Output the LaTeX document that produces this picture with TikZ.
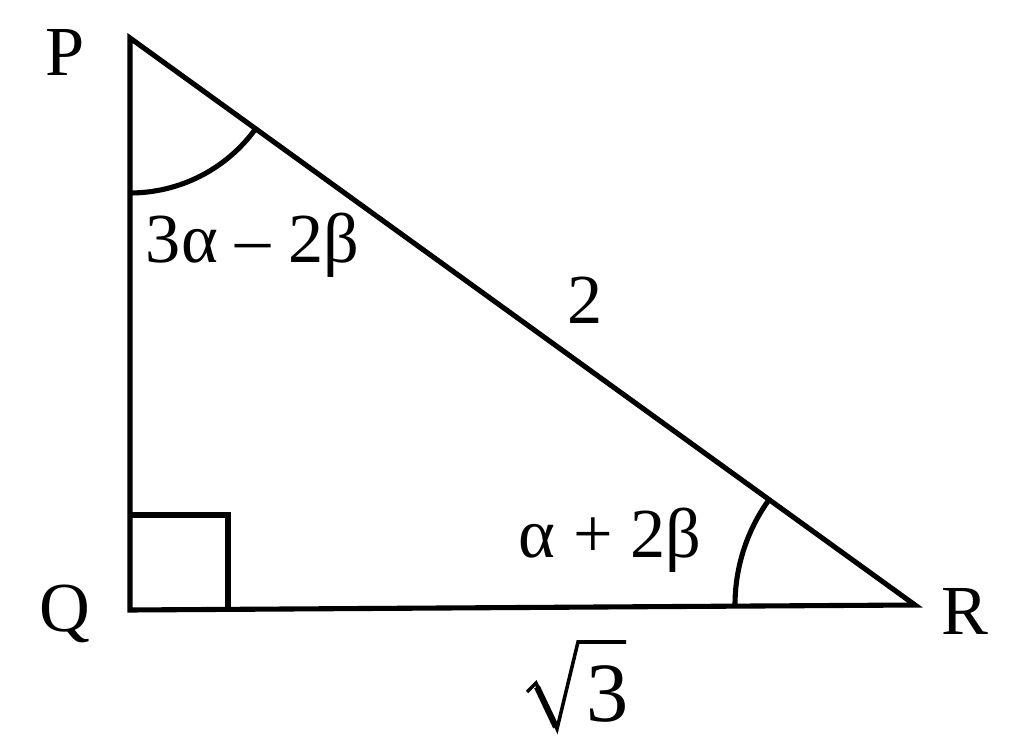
\documentclass[tikz,border=0pt]{standalone}
\usepackage{fontspec}
\setmainfont{Liberation Serif}
\usetikzlibrary{calc,angles}
\tikzset{
	lbl/.style={font=\fontsize{40}{46}\selectfont, inner sep=0pt}
}
\begin{document}
\begin{tikzpicture}[line width=2.9pt]
	\useasboundingbox (0,0) rectangle (20.48,15);
	
	%Sommets
	\coordinate (P) at (2.6,14.24);
	\coordinate (Q) at (2.6,2.8);
	\coordinate (R) at (18.3,2.9);
	
	%Triangle
	\draw[line join=miter] (P) -- (Q) -- (R) -- cycle;
	
	%Angle droit
	\draw (Q) ++(0,1.9) -- ++(1.96,0) -- ++(0,-1.9);
	
	%Arcs
	\draw pic[draw, angle radius=3.1cm] {angle = Q--P--R};
	\draw pic[draw, angle radius=3.6cm] {angle = P--R--Q};
	
	%Noms des sommets
	\node[lbl] (nP) at (1.3,13.95) {P};
	\node[lbl] (nQ) at (1.3,2.72) {Q};
	\node[lbl] (nR) at (19.3,2.78) {R};
	
	%Mesures
	\node[lbl] (aP) at (5.05,10.1) {3α – 2β};
	\node[lbl] (hyp) at (11.7,9.0) {2};
	\node[lbl] (aR) at (12.2,4.2) {α + 2β};
	\node[lbl, font=\fontsize{48}{54}\selectfont] (base) at (12.15,1.12) {3};
	% radical
	\draw[line width=2pt, line join=miter] (10.54,1.16) -- (10.72,1.34) -- (11.14,0.42) -- (11.56,2.16) -- (12.52,2.16);
	\draw[line width=3.5pt] (10.74,1.26) -- (11.12,0.46);
	
\end{tikzpicture}
\end{document}
